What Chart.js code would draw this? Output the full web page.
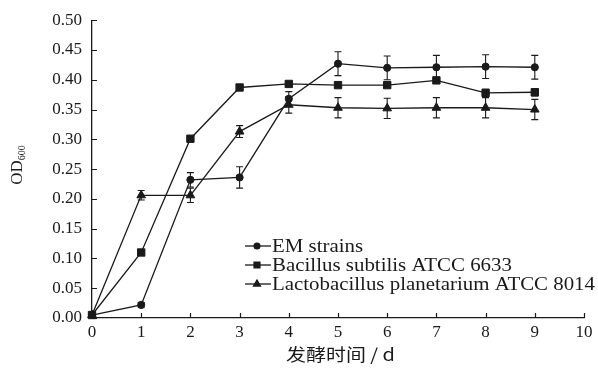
<!DOCTYPE html>
<html>
<head>
  <meta charset="utf-8">
  <title>OD600 growth curves</title>
  <script src="https://cdn.jsdelivr.net/npm/chart.js@4.4.0/dist/chart.umd.min.js"></script>
  <style>
    body { margin: 0; background: #fff; }
    #wrap { width: 598px; height: 369px; position: relative; }
  </style>
</head>
<body>
<div id="wrap"><canvas id="myChart" width="598" height="369"></canvas></div>
<script>
// fermentation time (d)
var days = [0, 1, 2, 3, 4, 5, 6, 7, 8, 9];

var seriesNames = ['EM strains', 'Bacillus subtilis ATCC 6633', 'Lactobacillus planetarium ATCC 8014'];

var emValues   = [0.005, 0.022, 0.232, 0.236, 0.368, 0.427, 0.420, 0.421, 0.422, 0.421];
var emErr      = [0.002, 0.004, 0.012, 0.018, 0.012, 0.020, 0.020, 0.020, 0.020, 0.020];

var bsValues   = [0.005, 0.110, 0.301, 0.387, 0.393, 0.391, 0.391, 0.399, 0.378, 0.379];
var bsErr      = [0.002, 0.003, 0.003, 0.003, 0.004, 0.004, 0.004, 0.004, 0.006, 0.006];

var lbValues   = [0.005, 0.206, 0.206, 0.313, 0.358, 0.353, 0.352, 0.353, 0.353, 0.350];
var lbErr      = [0.002, 0.008, 0.012, 0.010, 0.014, 0.017, 0.017, 0.017, 0.017, 0.017];

var xTicks = [0, 1, 2, 3, 4, 5, 6, 7, 8, 9, 10];
var yTicks = [0, 0.05, 0.10, 0.15, 0.20, 0.25, 0.30, 0.35, 0.40, 0.45, 0.50];

var ink = '#1a1a1a';
var serif = "'Liberation Serif', 'DejaVu Serif', serif";

function pts(vals) {
  return days.map(function (d, i) { return { x: d, y: vals[i] }; });
}

var errs = [emErr, bsErr, lbErr];
var styles = ['circle', 'rect', 'triangle'];
var radii = [3.6, 5.2, 5];

// draw text squeezed/stretched to a given width
function fitText(ctx, txt, x, y, width) {
  var w = ctx.measureText(txt).width;
  ctx.save();
  ctx.translate(x, y);
  ctx.scale(width / w, 1);
  ctx.fillText(txt, 0, 0);
  ctx.restore();
}

// error bars, inward ticks, legend and axis titles
var extras = {
  id: 'extras',
  beforeDatasetsDraw: function (chart) {
    var ctx = chart.ctx, xs = chart.scales.x, ys = chart.scales.y;
    ctx.save();
    ctx.strokeStyle = ink;
    ctx.lineWidth = 1.1;
    chart.data.datasets.forEach(function (ds, k) {
      ds.data.forEach(function (p, i) {
        var e = errs[k][i];
        if (!e) return;
        var px = xs.getPixelForValue(p.x);
        var top = ys.getPixelForValue(p.y + e);
        var bot = ys.getPixelForValue(p.y - e);
        ctx.beginPath();
        ctx.moveTo(px, top); ctx.lineTo(px, bot);
        ctx.moveTo(px - 3.5, top); ctx.lineTo(px + 3.5, top);
        ctx.moveTo(px - 3.5, bot); ctx.lineTo(px + 3.5, bot);
        ctx.stroke();
      });
    });
    ctx.restore();
  },
  afterDraw: function (chart) {
    var ctx = chart.ctx, xs = chart.scales.x, ys = chart.scales.y;
    var area = chart.chartArea;
    ctx.save();
    ctx.strokeStyle = ink;
    ctx.lineWidth = 1.2;
    // inward ticks
    ctx.beginPath();
    xTicks.forEach(function (v) {
      var px = Math.round(xs.getPixelForValue(v)) + 0.5;
      ctx.moveTo(px, area.bottom); ctx.lineTo(px, area.bottom - 5);
    });
    yTicks.forEach(function (v) {
      var py = Math.round(ys.getPixelForValue(v)) + 0.5;
      ctx.moveTo(area.left, py); ctx.lineTo(area.left + 5, py);
    });
    ctx.stroke();

    // legend
    var rows = [246, 265, 284];
    var widths = [91, 240, 323];
    ctx.font = '18px ' + serif;
    ctx.textBaseline = 'middle';
    ctx.fillStyle = ink;
    seriesNames.forEach(function (name, k) {
      var y = rows[k];
      ctx.beginPath();
      ctx.lineWidth = 1.3;
      ctx.moveTo(245, y); ctx.lineTo(271, y);
      ctx.stroke();
      Chart.helpers.drawPoint(ctx, { pointStyle: styles[k], radius: radii[k] * 0.8, rotation: 0, borderWidth: 1 }, 257, y);
      ctx.fill();
      fitText(ctx, name, 272, y + 1, widths[k]);
    });

    // x title
    ctx.font = "17px 'Noto Sans CJK SC', sans-serif";
    fitText(ctx, '发酵时间 / d', 286, 355, 109);

    // y title OD600 rotated
    ctx.translate(18, 165);
    ctx.rotate(-Math.PI / 2);
    ctx.textAlign = 'left';
    ctx.font = '17px ' + serif;
    var w1 = ctx.measureText('OD').width;
    ctx.font = '10px ' + serif;
    var w2 = ctx.measureText('600').width;
    var start = -(w1 + w2) / 2;
    ctx.font = '17px ' + serif;
    ctx.fillText('OD', start, 0);
    ctx.font = '10px ' + serif;
    ctx.fillText('600', start + w1, 4);
    ctx.restore();
  }
};

var datasets = [emValues, bsValues, lbValues].map(function (vals, k) {
  return {
    label: seriesNames[k],
    data: pts(vals),
    borderColor: ink,
    backgroundColor: ink,
    borderWidth: 1.3,
    tension: 0,
    pointStyle: styles[k],
    pointRadius: radii[k],
    pointBorderWidth: 1,
    pointBackgroundColor: ink,
    pointBorderColor: ink
  };
});

new Chart(document.getElementById('myChart').getContext('2d'), {
  type: 'line',
  data: { datasets: datasets },
  plugins: [extras],
  options: {
    responsive: false,
    animation: false,
    clip: false,
    layout: { padding: { top: 19, right: 14, left: 0, bottom: 0 } },
    plugins: { legend: { display: false }, tooltip: { enabled: false } },
    scales: {
      x: {
        type: 'linear',
        min: 0, max: 10,
        afterFit: function (s) { s.height = 51; },
        afterBuildTicks: function (s) { s.ticks = xTicks.map(function (v) { return { value: v }; }); },
        grid: { display: true, drawOnChartArea: false, drawTicks: false },
        border: { display: true, color: ink, width: 1.3 },
        ticks: { color: ink, padding: 4, font: { family: serif, size: 17 }, maxRotation: 0 }
      },
      y: {
        type: 'linear',
        min: 0, max: 0.5,
        afterFit: function (s) { s.width = 92; },
        afterBuildTicks: function (s) { s.ticks = yTicks.map(function (v) { return { value: v }; }); },
        grid: { display: true, drawOnChartArea: false, drawTicks: false },
        border: { display: true, color: ink, width: 1.3 },
        ticks: {
          color: ink, padding: 10, font: { family: serif, size: 17 },
          callback: function (v) { return v.toFixed(2); }
        }
      }
    }
  }
});
</script>
</body>
</html>
